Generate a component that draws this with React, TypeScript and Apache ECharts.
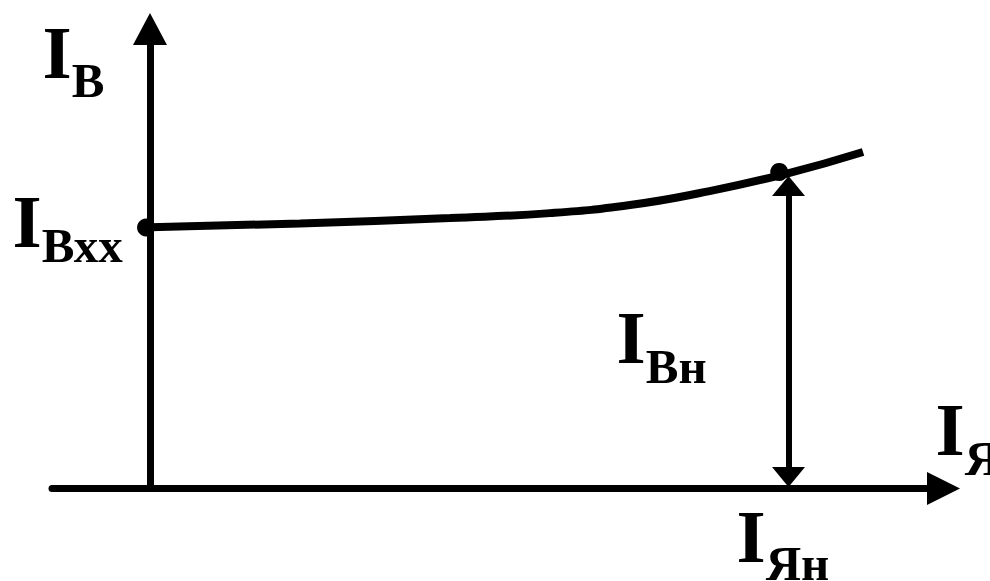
import React, { useEffect, useRef } from "react";
import * as echarts from "echarts";

// Curve I_В = f(I_Я) (arbitrary units, 0..100)
const curveX = [0, 18.9, 37.81, 50.41, 60.49, 69.31, 80.03, 89.86];
const curveY = [56.85, 57.67, 58.88, 59.93, 61.7, 64.31, 68.44, 73.23];

// Marked points: no-load point and nominal point
const dotX = [-0.5, 79.3];
const dotY = [56.8, 68.9];

// Nominal double arrow (from curve down to the axis)
const arrowX = 80.47;
const arrowTop = 65.83;
const arrowBottom = 2.5;

// Labels: main letter and subscript
const labelMain = ["I", "I", "I", "I", "I"];
const labelSub = ["В", "Вхх", "Вн", "Я", "Ян"];

const FONT = "'Liberation Serif', 'Times New Roman', serif";

export default function App() {
  const ref = useRef<HTMLDivElement>(null);

  useEffect(() => {
    if (!ref.current) return;
    const chart = echarts.init(ref.current, null, { renderer: "svg" });

    const mainPos = [
      [42.5, 52.7],
      [12.5, 221.7],
      [616.5, 337.7],
      [935.5, 429.7],
      [736.5, 536.7],
    ];
    const subPos = [
      [71.7, 80.5],
      [41.7, 245.5],
      [645.7, 366.5],
      [964.7, 458.5],
      [765.7, 563.5],
    ];

    const graphics: any[] = [];
    labelMain.forEach((t, i) => {
      graphics.push({
        type: "text",
        x: mainPos[i][0],
        y: mainPos[i][1],
        silent: true,
        style: {
          text: t,
          fontFamily: FONT,
          fontWeight: "bold",
          fontSize: 75,
          fill: "#000",
          textAlign: "left",
          textVerticalAlign: "middle",
        },
      });
      graphics.push({
        type: "text",
        x: subPos[i][0],
        y: subPos[i][1],
        silent: true,
        style: {
          text: labelSub[i],
          fontFamily: FONT,
          fontWeight: "bold",
          fontSize: 49,
          fill: "#000",
          textAlign: "left",
          textVerticalAlign: "middle",
        },
      });
    });

    const option: any = {
      animation: false,
      backgroundColor: "#ffffff",
      grid: { left: 52, right: 46.5, top: 29, bottom: 92.5, containLabel: false },
      xAxis: {
        type: "value",
        min: -12.35,
        max: 100,
        axisLine: {
          show: true,
          onZero: true,
          symbol: ["none", "triangle"],
          symbolSize: [33, 33],
          lineStyle: { color: "#000", width: 7 },
        },
        axisTick: { show: false },
        axisLabel: { show: false },
        splitLine: { show: false },
      },
      yAxis: {
        type: "value",
        min: 0,
        max: 100,
        axisLine: {
          show: true,
          onZero: true,
          symbol: ["none", "triangle"],
          symbolSize: [34, 32],
          lineStyle: { color: "#000", width: 7 },
        },
        axisTick: { show: false },
        axisLabel: { show: false },
        splitLine: { show: false },
      },
      series: [
        {
          type: "line",
          data: curveX.map((x, i) => [x, curveY[i]]),
          smooth: 0.5,
          showSymbol: false,
          symbol: "none",
          lineStyle: { color: "#000", width: 8, cap: "butt" },
          silent: true,
          z: 3,
          markLine: {
            silent: true,
            symbol: ["triangle", "triangle"],
            symbolSize: [33, 20],
            label: { show: false },
            lineStyle: { color: "#000", width: 6, type: "solid", opacity: 1 },
            itemStyle: { color: "#000", opacity: 1 },
            emphasis: { disabled: true },
            data: [
              [
                { coord: [arrowX, arrowTop] },
                { coord: [arrowX, arrowBottom] },
              ],
            ],
          },
        },
        {
          type: "scatter",
          data: dotX.map((x, i) => [x, dotY[i]]),
          symbol: "circle",
          symbolSize: 18,
          itemStyle: { color: "#000", opacity: 1 },
          silent: true,
          z: 5,
        },
      ],
      graphic: graphics,
    };

    chart.setOption(option);
    return () => chart.dispose();
  }, []);

  return (
    <div
      ref={ref}
      style={{ position: "fixed", left: 0, top: 0, width: 990, height: 581, background: "#fff" }}
    />
  );
}
